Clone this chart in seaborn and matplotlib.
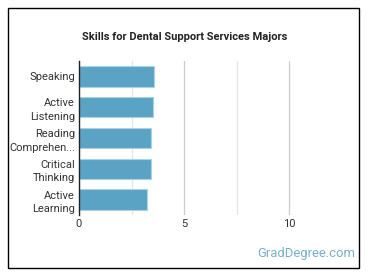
import matplotlib
matplotlib.use("Agg")
import matplotlib.pyplot as plt
import seaborn as sns
import pandas as pd
from matplotlib.patches import Rectangle

skills = ["Speaking", "Active\nListening", "Reading\nComprehen...", "Critical\nThinking", "Active\nLearning"]
values = [3.57, 3.52, 3.43, 3.44, 3.24]
xticks = [0, 5, 10]

sns.set_theme(style="white")
plt.rcParams['font.family'] = ['Roboto', 'DejaVu Sans']

df = pd.DataFrame({"skill": skills, "value": values})

fig = plt.figure(figsize=(3.7, 2.78), dpi=100)
ax = fig.add_axes([79/370, 1-215/278, (350-79)/370, (215-61)/278])

sns.barplot(data=df, x="value", y="skill", ax=ax, color="#5ba3c4",
            edgecolor="#a9d2e4", linewidth=0.8, width=0.66, saturation=1)

ax.set_xlim(0, 12.9)
ax.set_xticks(xticks)
ax.set_xticks([2.5, 7.5], minor=True)
ax.grid(axis="x", which="major", color="#cccccc", linewidth=0.9)
ax.grid(axis="x", which="minor", color="#e6e6e6", linewidth=0.9)
ax.set_axisbelow(True)
ax.tick_params(axis="both", which="both", length=0, labelsize=8, colors="#333333", pad=3)
for lab in ax.get_yticklabels():
    lab.set_linespacing(1.45)
ax.set_xlabel("")
ax.set_ylabel("")
for s in ["top", "right", "bottom"]:
    ax.spines[s].set_visible(False)
ax.spines["left"].set_color("#222222")
ax.spines["left"].set_linewidth(1)

fig.text(0.5, 1-37/278, "Skills for Dental Support Services Majors", ha="center", va="center",
         fontsize=8, fontweight="bold", color="#222222")
fig.text(355/370, 1-254/278, "GradDegree.com", ha="right", va="center",
         fontsize=9.4, color="#7aaecb")

fig.patches.append(Rectangle((8/370, 1-268/278), (359-8)/370, (268-8)/278,
                             transform=fig.transFigure, fill=False, edgecolor="black", linewidth=1.0))

fig.savefig("out.png", dpi=100)
